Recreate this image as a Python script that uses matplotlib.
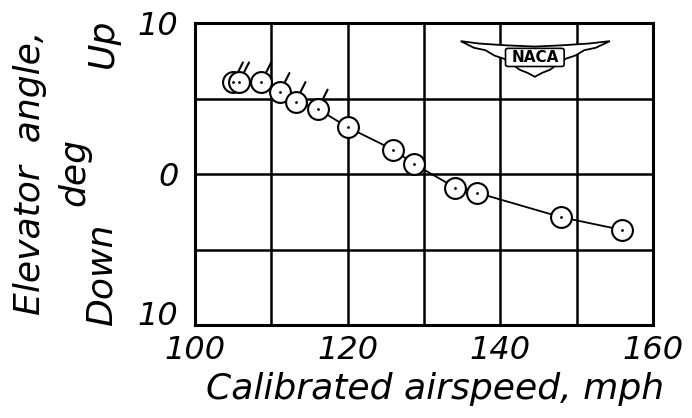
import matplotlib
matplotlib.use("Agg")
import matplotlib.pyplot as plt
from matplotlib.patches import Polygon, FancyBboxPatch

# Data
airspeed_mph = [105.0, 105.8, 108.7, 111.1, 113.2, 116.1, 120.0, 126.0, 128.7, 134.1, 137.0, 147.9, 155.9]
elevator_deg = [6.1, 6.1, 6.1, 5.4, 4.8, 4.3, 3.1, 1.6, 0.66, -0.9, -1.25, -2.85, -3.7]
flagged = [True, True, True, True, True, True, False, False, False, False, False, False, False]
x_ticks = [100, 110, 120, 130, 140, 150, 160]
x_ticklabels = ["100", "", "120", "", "140", "", "160"]
y_ticks = [-10, -5, 0, 5, 10]
y_ticklabels = ["10", "", "0", "", "10"]

plt.rcParams['font.family'] = ['DejaVu Sans']

fig = plt.figure(figsize=(6.92, 4.18), dpi=100)
ax = fig.add_axes([195/692, 1-325/418, (653-195)/692, (325-23)/418])

ax.set_xlim(100, 160)
ax.set_ylim(-10, 10)

# grid; bottom y label drawn separately so it sits slightly above the "100"
ax.set_xticks(x_ticks, x_ticklabels)
ax.set_yticks(y_ticks, [""] + y_ticklabels[1:])
ax.grid(which='major', color='black', linewidth=1.8)
ax.tick_params(which='major', length=0, labelsize=23, pad=7)
for lab in ax.get_xticklabels() + ax.get_yticklabels():
    lab.set_fontstyle('italic')
ax.tick_params(axis='y', pad=12)
ax.annotate(y_ticklabels[0], xy=(x_ticks[0], y_ticks[0]), xycoords='data',
            xytext=(-12, 6), textcoords='offset points', ha='right', va='center',
            fontsize=23, fontstyle='italic', annotation_clip=False)
for s in ax.spines.values():
    s.set_linewidth(2.2)

# data line and points
ax.plot(airspeed_mph, elevator_deg, color='black', linewidth=1.3, zorder=3)
ax.plot(airspeed_mph, elevator_deg, linestyle='none', marker='o', markersize=15,
        markerfacecolor='white', markeredgecolor='black', markeredgewidth=1.5, zorder=4)
ax.plot(airspeed_mph, elevator_deg, linestyle='none', marker='.', markersize=2,
        color='black', zorder=5)
for x, y, f in zip(airspeed_mph, elevator_deg, flagged):
    if f:
        ax.annotate('', xy=(x, y), xycoords='data', xytext=(7, 14), textcoords='offset points',
                    arrowprops=dict(arrowstyle='-', color='black', lw=1.5, shrinkA=0, shrinkB=8),
                    zorder=6)

# NACA logo (simplified winged badge)
wing = [(0.580, 0.940), (0.62, 0.932), (0.68, 0.926), (0.742, 0.922), (0.80, 0.926),
        (0.86, 0.932), (0.906, 0.940),
        (0.875, 0.918), (0.85, 0.910), (0.83, 0.892), (0.81, 0.882), (0.79, 0.862),
        (0.775, 0.845), (0.758, 0.835), (0.742, 0.822),
        (0.726, 0.835), (0.709, 0.845), (0.694, 0.862), (0.674, 0.882), (0.654, 0.892),
        (0.634, 0.910), (0.609, 0.918)]
ax.add_patch(Polygon(wing, closed=True, transform=ax.transAxes, facecolor='white',
                     edgecolor='black', linewidth=1.3, zorder=6))
ax.add_patch(FancyBboxPatch((0.684, 0.862), 0.116, 0.048, boxstyle='round,pad=0.006',
                            transform=ax.transAxes, facecolor='white', edgecolor='black',
                            linewidth=1.2, zorder=7))
ax.text(0.742, 0.886, 'NACA', transform=ax.transAxes, ha='center', va='center',
        fontsize=11, fontweight='bold', zorder=8)

# axis titles
tk = dict(fontsize=26, fontstyle='italic')
fig.text(435/692, 1-389/418, 'Calibrated airspeed, mph', ha='center', va='center', **tk)
fig.text(30/692, 1-173/418, 'Elevator  angle,', ha='center', va='center', rotation=90, **tk)
fig.text(74/692, 1-172/418, 'deg', ha='center', va='center', rotation=90, **tk)
fig.text(103/692, 1-43/418, 'Up', ha='center', va='center', rotation=90, **tk)
fig.text(102/692, 1-275/418, 'Down', ha='center', va='center', rotation=90, **tk)

fig.savefig('out.png', dpi=100)
